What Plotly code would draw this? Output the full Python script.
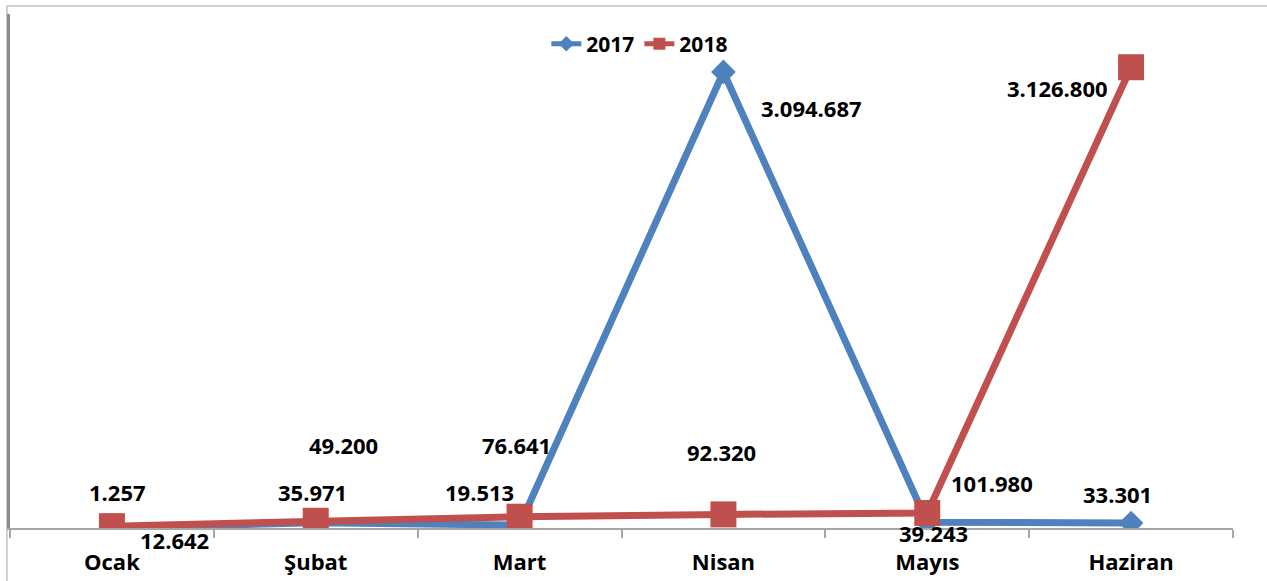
import plotly.graph_objects as go

months = ["Ocak", "Şubat", "Mart", "Nisan", "Mayıs", "Haziran"]
series_names = ["2017", "2018"]
values_2017 = [1257, 35971, 19513, 3094687, 39243, 33301]
values_2018 = [12642, 49200, 76641, 92320, 101980, 3126800]

# label offsets in pixels (styling only)
offsets_2017 = [(6, 36), (-3, 31), (-40, 33), (88, -36), (6, -11), (-14, 29)]
offsets_2018 = [(63, -14), (28, 76), (-3, 72), (-2, 62), (65, 30), (-74, -21)]

BLUE = "#4F81BD"
RED = "#C0504D"
FONT = "Open Sans"


def fmt(v):
    return f"{v:,}".replace(",", ".")


fig = go.Figure()
fig.add_trace(go.Scatter(
    x=months, y=values_2017, name=series_names[0], mode="lines+markers",
    line=dict(color=BLUE, width=7),
    marker=dict(symbol="diamond", size=19, color=BLUE),
))
fig.add_trace(go.Scatter(
    x=months, y=values_2018, name=series_names[1], mode="lines+markers",
    line=dict(color=RED, width=7),
    marker=dict(symbol="square", size=26, color=RED),
))

annotations = []
for vals, offs in ((values_2017, offsets_2017), (values_2018, offsets_2018)):
    for m, v, (dx, dy) in zip(months, vals, offs):
        annotations.append(dict(
            x=m, y=v, xref="x", yref="y", text=fmt(v), showarrow=False,
            xshift=dx, yshift=dy,
            font=dict(family=FONT, size=22, color="#000000", weight="bold"),
        ))

fig.update_layout(
    width=1267, height=581,
    margin=dict(l=10, r=34, t=14, b=53, autoexpand=False),
    paper_bgcolor="white", plot_bgcolor="white",
    showlegend=True,
    legend=dict(
        orientation="h", xref="container", yref="container",
        x=0.505, xanchor="center", y=0.924, yanchor="middle",
        font=dict(family=FONT, size=21, color="#000000", weight="bold"),
        itemsizing="constant", bgcolor="rgba(0,0,0,0)",
    ),
    annotations=annotations,
    xaxis=dict(
        type="category", range=[-0.5, 5.5],
        showgrid=False, showline=True, linecolor="#A6A6A6", linewidth=2,
        ticks="outside", tickson="boundaries", ticklen=8, tickcolor="#A6A6A6", tickwidth=2,
        tickfont=dict(family=FONT, size=22, color="#000000", weight="bold"),
        ticklabelstandoff=14,
        zeroline=False,
    ),
    yaxis=dict(
        range=[0, 3488000], showgrid=False, zeroline=False,
        showticklabels=False, ticks="",
        showline=True, linecolor="#8C8C8C", linewidth=3,
    ),
    shapes=[dict(
        type="rect", xref="paper", yref="paper",
        x0=-0.0025, x1=1.2, y0=-0.3, y1=1.0156,
        line=dict(color="#A0A0A0", width=1), layer="below",
    )],
)

fig.write_html(
    "out.html",
    config={"displayModeBar": False},
    post_script="document.body.style.margin='0px';document.body.style.padding='0px';"
                "document.body.style.overflow='hidden';",
)
